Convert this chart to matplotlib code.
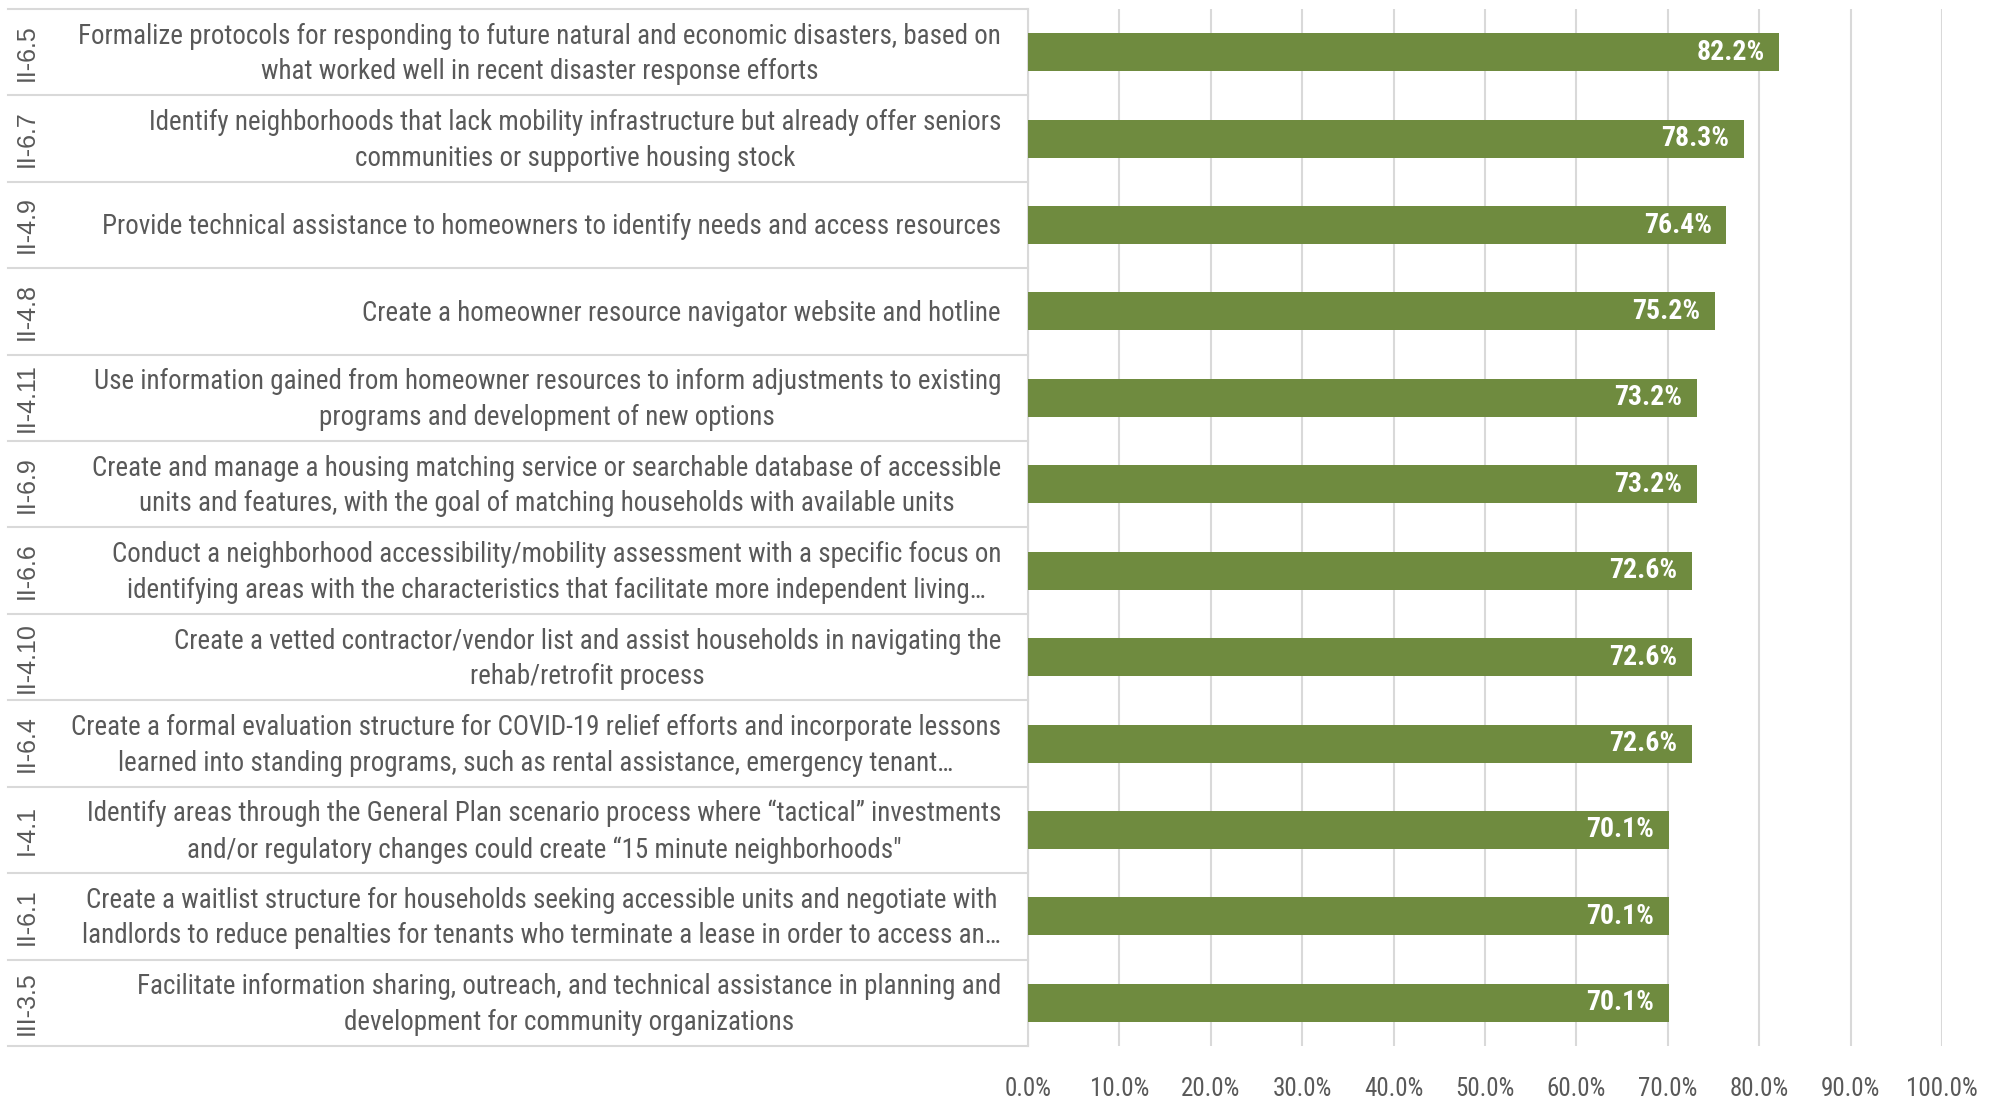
import matplotlib
matplotlib.use('Agg')
import matplotlib.pyplot as plt
from matplotlib import font_manager
import numpy as np

# data, top row first
codes = ['II-6.5', 'II-6.7', 'II-4.9', 'II-4.8', 'II-4.11', 'II-6.9',
         'II-6.6', 'II-4.10', 'II-6.4', 'I-4.1', 'II-6.1', 'III-3.5']
labels = [
    'Formalize protocols for responding to future natural and economic disasters, based on\nwhat worked well in recent disaster response efforts',
    'Identify neighborhoods that lack mobility infrastructure but already offer seniors\ncommunities or supportive housing stock',
    'Provide technical assistance to homeowners to identify needs and access resources',
    'Create a homeowner resource navigator website and hotline',
    'Use information gained from homeowner resources to inform adjustments to existing\nprograms and development of new options',
    'Create and manage a housing matching service or searchable database of accessible\nunits and features, with the goal of matching households with available units',
    'Conduct a neighborhood accessibility/mobility assessment with a specific focus on\nidentifying areas with the characteristics that facilitate more independent living\u2026',
    'Create a vetted contractor/vendor list and assist households in navigating the\nrehab/retrofit process',
    'Create a formal evaluation structure for COVID-19 relief efforts and incorporate lessons\nlearned into standing programs, such as rental assistance, emergency tenant\u2026',
    'Identify areas through the General Plan scenario process where \u201ctactical\u201d investments\nand/or regulatory changes could create \u201c15 minute neighborhoods"',
    'Create a waitlist structure for households seeking accessible units and negotiate with\nlandlords to reduce penalties for tenants who terminate a lease in order to access an\u2026',
    'Facilitate information sharing, outreach, and technical assistance in planning and\ndevelopment for community organizations',
]
values = [82.2, 78.3, 76.4, 75.2, 73.2, 73.2, 72.6, 72.6, 72.6, 70.1, 70.1, 70.1]
ticks = np.arange(0, 101, 10)

# narrow font if there is one
names = {f.name for f in font_manager.fontManager.ttflist}
fam = ['Liberation Sans', 'DejaVu Sans']
for n in ['Liberation Sans Narrow', 'Roboto Condensed', 'Open Sans Condensed', 'DejaVu Sans Condensed']:
    if n in names:
        fam = [n, 'DejaVu Sans']
        break
plt.rcParams['font.family'] = fam

grey = '#595959'
line_c = '#D9D9D9'
bar_c = '#6F8B3F'

fig = plt.figure(figsize=(19.97, 11.04), dpi=100)
ax = fig.add_axes([1028/1997, 1 - 1046/1104, 914/1997, 1037/1104])

y = np.arange(len(values))
ax.barh(y, values, height=0.44, color=bar_c, zorder=3)
ax.set_ylim(len(values) - 0.5, -0.5)
ax.set_xlim(0, 100)

ax.set_xticks(ticks)
ax.set_xticklabels(['%.1f%%' % t for t in ticks], fontsize=18, color=grey)
ax.tick_params(axis='x', length=0, pad=22)
ax.set_yticks([])
ax.grid(axis='x', color=line_c, lw=1.5, zorder=0)
for s in ['top', 'right', 'bottom']:
    ax.spines[s].set_visible(False)
ax.spines['left'].set_color(line_c)
ax.spines['left'].set_linewidth(1.5)

# table lines on the left
tr = ax.get_yaxis_transform()
x0 = (8 - 1028) / 914
for b in np.arange(-0.5, len(values), 1.0):
    ax.plot([x0, 0], [b, b], transform=tr, color=line_c, lw=1.5, clip_on=False)

txts = []
for i in range(len(values)):
    t = ax.text(-0.0295, i + 0.02, labels[i], transform=tr, ha='right', va='center',
                multialignment='center', fontsize=19, color=grey, linespacing=1.4)
    txts.append(t)
    ax.text((27 - 1028) / 914, i, codes[i], transform=tr, ha='center', va='center',
            rotation=90, fontsize=18, color=grey, family=['Liberation Sans', 'DejaVu Sans'])
    ax.text(values[i] - 1.6, i, '%.1f%%' % values[i], ha='right', va='center',
            fontsize=20, fontweight='bold', color='white', zorder=4)

# size the labels so the widest line spans the 928 px the reference uses
r = fig.canvas.get_renderer()
wmax = max(t.get_window_extent(r).width for t in txts)
for t in txts:
    t.set_fontsize(19 * 928 / wmax)

fig.savefig('out.png', dpi=100)
